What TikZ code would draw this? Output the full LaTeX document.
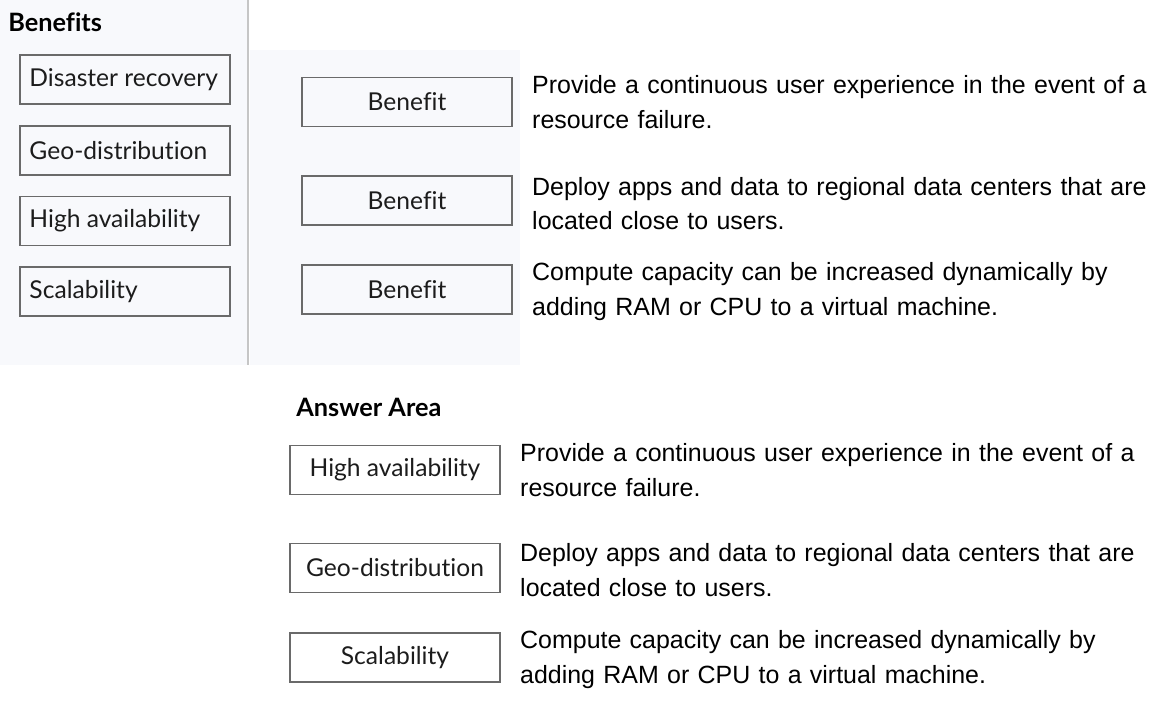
\documentclass[tikz,border=0pt]{standalone}
\usepackage{fontspec}
\setmainfont{Liberation Sans}
\newfontfamily\uifont[Ligatures=NoCommon]{Lato}
\usepackage{tikz}
\usetikzlibrary{positioning}

\definecolor{boxline}{HTML}{6A6A6A}
\definecolor{panel}{HTML}{F8F9FC}
\definecolor{labeltext}{HTML}{1C1C1C}

\tikzset{
    choice/.style={draw=boxline, line width=1pt, rectangle, minimum width=4.2cm,
        minimum height=0.98cm, inner sep=0pt, font=\uifont\fontsize{14}{16}\selectfont,
        text=labeltext},
    descr/.style={align=left, text width=13.2cm, inner sep=0pt,
        font=\fontsize{14.2}{19.8}\selectfont},
    heading/.style={inner sep=0pt, font=\uifont\bfseries\fontsize{14.4}{16}\selectfont}
}

\begin{document}
\begin{tikzpicture}[x=0.02cm, y=-0.02cm]
    \useasboundingbox (0,0) rectangle (1162,714);
    \fill[white] (0,0) rectangle (1162,714);
    \fill[panel] (0,0) rectangle (248,365);
    \fill[panel] (250,50) rectangle (520,365);
    \draw[gray!45, line width=1pt] (248,0) -- (248,365);

    % Benefits list
    \node[heading, anchor=west] (benefits) at (8,22) {Benefits};
    \node[choice] (disaster) at (125,79.5) {};
    \node[choice, below=0.4cm of disaster] (geo) {};
    \node[choice, below=0.4cm of geo] (high) {};
    \node[choice, below=0.4cm of high] (scale) {};
    \node[anchor=west, inner sep=0pt, font=\uifont\fontsize{14}{16}\selectfont, text=labeltext]
        at ([xshift=0.2cm]disaster.west) {Disaster recovery};
    \node[anchor=west, inner sep=0pt, font=\uifont\fontsize{14}{16}\selectfont, text=labeltext]
        at ([xshift=0.2cm]geo.west) {Geo-distribution};
    \node[anchor=west, inner sep=0pt, font=\uifont\fontsize{14}{16}\selectfont, text=labeltext]
        at ([xshift=0.2cm]high.west) {High availability};
    \node[anchor=west, inner sep=0pt, font=\uifont\fontsize{14}{16}\selectfont, text=labeltext]
        at ([xshift=0.2cm]scale.west) {Scalability};

    % Question
    \node[choice] (slotA) at (407,102) {Benefit};
    \node[choice] (slotB) at (407,200.5) {Benefit};
    \node[choice] (slotC) at (407,289.5) {Benefit};
    \node[descr, right=0.38cm of slotA] (descA) {Provide a continuous user experience in the event of a\\resource failure.};
    \node[descr, right=0.38cm of slotB, yshift=-0.06cm] (descB) {Deploy apps and data to regional data centers that are\\located close to users.};
    \node[descr, right=0.38cm of slotC, yshift=-0.04cm] (descC) {Compute capacity can be increased dynamically by\\adding RAM or CPU to a virtual machine.};

    % Answer Area
    \node[heading, anchor=west] (answer) at (296,407) {Answer Area};
    \node[choice] (ansA) at (395,470) {High availability};
    \node[choice] (ansB) at (395,568) {Geo-distribution};
    \node[choice] (ansC) at (395,657.5) {Scalability};
    \node[descr, right=0.38cm of ansA] (textA) {Provide a continuous user experience in the event of a\\resource failure.};
    \node[descr, right=0.38cm of ansB, yshift=-0.04cm] (textB) {Deploy apps and data to regional data centers that are\\located close to users.};
    \node[descr, right=0.38cm of ansC, yshift=-0.04cm] (textC) {Compute capacity can be increased dynamically by\\adding RAM or CPU to a virtual machine.};
\end{tikzpicture}
\end{document}
